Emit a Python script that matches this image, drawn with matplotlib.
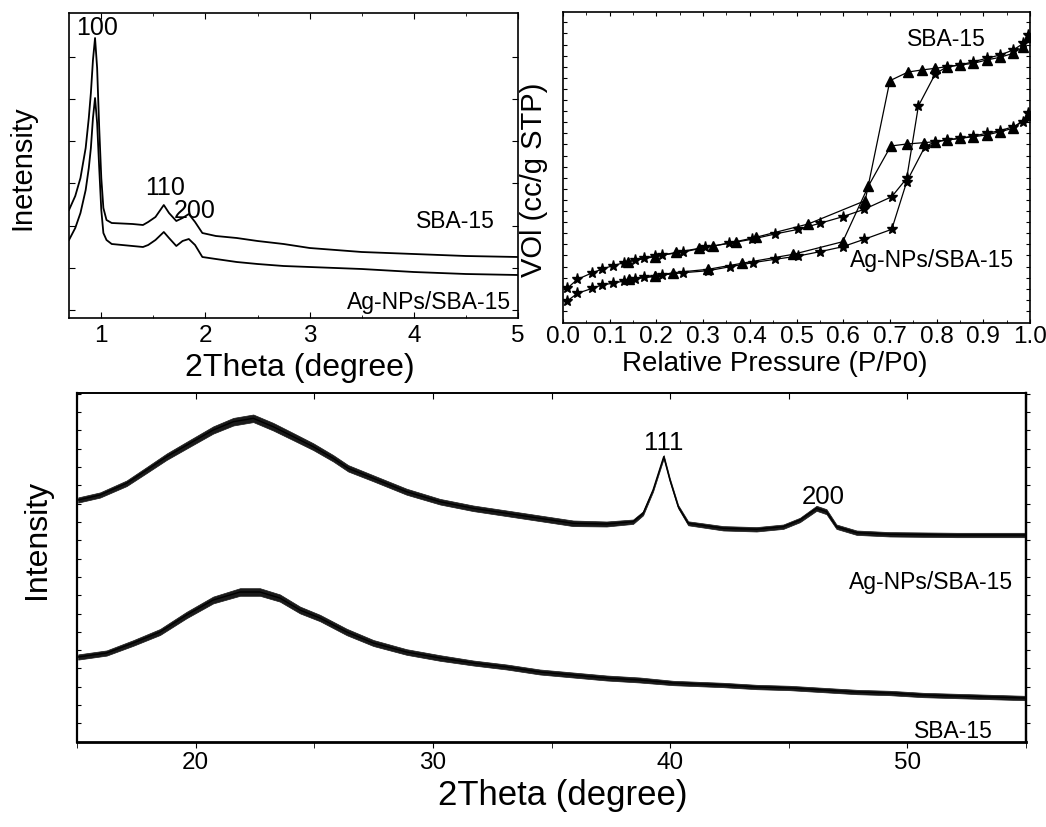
import numpy as np
import matplotlib
matplotlib.use("Agg")
import matplotlib.pyplot as plt
from matplotlib.ticker import FixedLocator, MultipleLocator, NullFormatter

plt.rcParams['font.family'] = ['Liberation Sans', 'DejaVu Sans']

W, H = 1046, 827

# --- small-angle XRD (top left), intensity in arbitrary units ---
sa_theta = [0.69, 0.75, 0.80, 0.85, 0.88, 0.90, 0.92, 0.94, 0.96, 0.98, 1.00, 1.02,
            1.05, 1.10, 1.30, 1.40, 1.45, 1.52, 1.60, 1.65, 1.72, 1.78, 1.84, 1.90,
            1.97, 2.10, 2.30, 2.50, 2.75, 3.00, 3.50, 4.00, 4.50, 5.00]
sa_sba = [108, 122, 140, 170, 200, 225, 258, 280, 250, 190, 140, 110,
          98, 95, 94, 93, 96, 101, 113, 105, 97, 100, 104, 96,
          85, 82, 80, 77, 74, 70, 66, 64, 62, 61]
sa_ag = [78, 90, 105, 128, 150, 170, 200, 220, 195, 150, 108, 85,
         78, 74, 72, 71, 73, 78, 86, 80, 72, 77, 79, 73,
         61, 59, 56, 54, 52, 51, 49, 46, 44, 43]

# --- N2 isotherms (top right), volume in arbitrary units ---
sba_ads_p = [0.009, 0.031, 0.063, 0.083, 0.106, 0.131, 0.154, 0.173, 0.196, 0.213, 0.258,
             0.305, 0.356, 0.404, 0.454, 0.504, 0.550, 0.599, 0.645, 0.704, 0.736, 0.761,
             0.797, 0.822, 0.850, 0.879, 0.907, 0.936, 0.964, 0.986, 0.996]
sba_ads_v = [34.7, 43.7, 50.3, 53.7, 57.3, 60.3, 63, 64.7, 67, 68, 71,
             75.7, 79.7, 83.7, 89, 93.7, 99.7, 106.3, 113.7, 126.3, 144.7, 217,
             249, 256.3, 258, 261.3, 264.7, 268, 273, 279.7, 288]
sba_des_p = [0.996, 0.986, 0.964, 0.936, 0.907, 0.879, 0.850, 0.822, 0.797, 0.768, 0.739,
             0.700, 0.647, 0.525, 0.413, 0.370, 0.322, 0.292, 0.243, 0.196, 0.140]
sba_des_v = [286.3, 276.3, 269.7, 265.7, 263, 259.7, 258, 256.3, 254.7, 253, 251,
             242.3, 122.3, 99, 85.7, 81.3, 77, 74.7, 70.7, 66.3, 61.3]

ag_ads_p = [0.009, 0.031, 0.063, 0.083, 0.106, 0.131, 0.154, 0.173, 0.196, 0.213, 0.258,
            0.311, 0.358, 0.406, 0.454, 0.504, 0.550, 0.599, 0.645, 0.704, 0.736, 0.775,
            0.797, 0.822, 0.850, 0.879, 0.907, 0.936, 0.964, 0.986, 0.996]
ag_ads_v = [22, 29.7, 34.7, 38, 39.7, 42, 43.7, 45.7, 46.3, 48, 50.3,
            52.3, 56.3, 60.3, 63.7, 67, 71.3, 76.3, 83.7, 93.7, 141.3, 176.3,
            181.3, 183, 184.7, 187, 189.7, 192.3, 196.3, 201.3, 209.7]
ag_des_p = [0.996, 0.964, 0.936, 0.907, 0.879, 0.850, 0.822, 0.797, 0.772, 0.736, 0.702,
            0.654, 0.599, 0.493, 0.383, 0.311, 0.236, 0.197, 0.142]
ag_des_v = [208, 194.7, 191.3, 188, 186.3, 184.7, 183, 181.3, 180.3, 179, 177,
            137, 81.3, 68.7, 59.7, 53.7, 50.3, 47, 43.7]

# --- wide-angle XRD (bottom): centre of the noisy trace and its half width ---
wa_ag_theta = [15.05, 15.97, 17.09, 17.94, 18.78, 19.76, 20.74, 21.59, 22.43, 23.27,
               24.12, 24.96, 25.8, 26.43, 27.49, 28.89, 30.3, 31.7, 33.11, 34.51,
               35.91, 37.32, 38.44, 38.86, 39.28, 39.73, 39.99, 40.34, 40.76, 42.24,
               43.64, 44.77, 45.47, 46.17, 46.59, 47.01, 47.86, 49.26, 52.07, 54.95]
wa_ag = [242, 247, 258.7, 272, 285.3, 298.7, 312, 320.3, 323.7, 315.3,
         305.3, 295.3, 283.7, 273.7, 263.7, 250.3, 240.3, 233.7, 228.7, 223.7,
         218.7, 218, 220.3, 228.7, 252, 285.3, 262, 235.3, 218.7, 213.7,
         212.7, 215.3, 222, 233.7, 230.3, 215.3, 209.3, 207.7, 207, 207]
wa_ag_noise = [2.6, 2.6, 2.8, 3, 3.2, 3.4, 3.6, 3.8, 3.8, 3.8,
               3.6, 3.4, 3.2, 3.2, 3, 3, 2.8, 2.8, 2.8, 2.8,
               2.8, 2.5, 2.2, 2, 1.6, 1.6, 1.6, 1.6, 2, 2.2,
               2.2, 2.2, 2.2, 2.5, 2.5, 2.2, 2.2, 2.2, 2.2, 2.2]
wa_sba_theta = [15.05, 16.25, 17.37, 18.5, 19.62, 20.74, 21.87, 22.71, 23.55, 24.4,
                25.24, 26.37, 27.49, 28.89, 30.3, 31.7, 33.11, 34.51, 35.91, 37.32,
                38.72, 40.13, 42.24, 43.64, 45.05, 46.45, 47.86, 49.26, 50.66, 52.07, 54.95]
wa_sba = [85, 89, 99, 110, 127, 142, 150, 150, 144, 132,
          124, 110, 99, 90, 84, 79, 75, 70, 67, 64,
          62, 59, 57, 55, 54, 52, 50, 49, 47, 46, 44]
wa_sba_noise = [2.6, 2.6, 2.8, 3, 3.2, 3.4, 3.8, 3.8, 3.6, 3.4,
                3.2, 3.2, 3, 2.8, 2.8, 2.5, 2.5, 2.5, 2.5, 2.5,
                2.5, 2.2, 2.2, 2.2, 2.2, 2.2, 2.2, 2.2, 2.2, 2.2, 2.2]

fig = plt.figure(figsize=(W / 100, H / 100), dpi=100)


def px_axes(l, t, r, b):
    return fig.add_axes([l / W, 1 - b / H, (r - l) / W, (b - t) / H])


def ftext(x, y, s, **kw):
    fig.text(x / W, 1 - y / H, s, ha='center', va='center', **kw)


# top left
ax1 = px_axes(69, 13, 518, 318)
ax1.plot(sa_theta, sa_sba, color='black', lw=1.3)
ax1.plot(sa_theta, sa_ag, color='black', lw=1.3)
ax1.set_xlim(0.69, 5)
ax1.set_ylim(0, 305)
ax1.xaxis.set_major_locator(FixedLocator([1, 2, 3, 4, 5]))
ax1.xaxis.set_minor_locator(MultipleLocator(0.5))
ax1.yaxis.set_major_locator(FixedLocator(np.arange(8, 300, 42.2)))
ax1.yaxis.set_major_formatter(NullFormatter())
ax1.tick_params(which='both', direction='in', top=True, right=True, labelsize=17.5, pad=5, length=4)
ax1.tick_params(which='minor', length=2.5)
ax1.text(0.958, 290, '100', fontsize=18, ha='center', va='center')
ax1.text(1.61, 130, '110', fontsize=18, ha='center', va='center')
ax1.text(1.90, 107, '200', fontsize=18, ha='center', va='center')
ax1.text(4.40, 96, 'SBA-15', fontsize=16.5, ha='center', va='center')
ax1.text(4.15, 15, 'Ag-NPs/SBA-15', fontsize=16.5, ha='center', va='center')
ftext(300, 368, '2Theta (degree)', fontsize=23)
ftext(22, 168, 'Inetensity', fontsize=21, rotation=90)

# top right
ax2 = px_axes(563, 12, 1030, 323)
kw = dict(color='black', lw=0.9)
ax2.plot(sba_ads_p, sba_ads_v, marker='*', markersize=8, **kw)
ax2.plot(sba_des_p, sba_des_v, marker='^', markersize=7, **kw)
ax2.plot(ag_ads_p, ag_ads_v, marker='*', markersize=8, **kw)
ax2.plot(ag_des_p, ag_des_v, marker='^', markersize=7, **kw)
ax2.set_xlim(0, 1.0)
ax2.set_ylim(0, 311)
ax2.xaxis.set_major_locator(MultipleLocator(0.1))
ax2.xaxis.set_minor_locator(MultipleLocator(0.05))
ax2.xaxis.set_major_formatter(plt.FuncFormatter(lambda v, p: f'{v:.1f}'))
ax2.yaxis.set_major_locator(FixedLocator(np.arange(12, 311, 11.1)))
ax2.yaxis.set_major_formatter(NullFormatter())
ax2.tick_params(which='both', direction='in', top=True, right=True, labelsize=17.5, pad=2, length=3)
ax2.tick_params(which='minor', length=2)
ax2.text(0.822, 283, 'SBA-15', fontsize=16.5, ha='center', va='center')
ax2.text(0.79, 63, 'Ag-NPs/SBA-15', fontsize=16.5, ha='center', va='center')
ftext(775, 364, 'Relative Pressure (P/P0)', fontsize=20)
ftext(534, 180, 'VOl (cc/g STP)', fontsize=21, rotation=90)

# bottom
ax3 = px_axes(77, 393, 1026, 742)
ag_c = np.array(wa_ag)
ag_n = np.array(wa_ag_noise)
sba_c = np.array(wa_sba)
sba_n = np.array(wa_sba_noise)
ax3.fill_between(wa_ag_theta, ag_c - ag_n, ag_c + ag_n, color='0.1', lw=0.5)
ax3.fill_between(wa_sba_theta, sba_c - sba_n, sba_c + sba_n, color='0.1', lw=0.5)
ax3.plot(wa_ag_theta, wa_ag, color='black', lw=1.0)
ax3.plot(wa_sba_theta, wa_sba, color='black', lw=1.0)
ax3.set_xlim(15, 55)
ax3.set_ylim(0, 349)
ax3.xaxis.set_major_locator(FixedLocator([20, 30, 40, 50]))
ax3.xaxis.set_minor_locator(MultipleLocator(5))
ax3.yaxis.set_major_locator(FixedLocator(np.arange(18.7, 349, 18.3)))
ax3.yaxis.set_major_formatter(NullFormatter())
ax3.tick_params(axis='x', which='both', direction='out', labelsize=17.5, pad=3, length=4)
ax3.tick_params(axis='y', which='both', direction='in', length=3)
top = ax3.secondary_xaxis('top')
top.xaxis.set_major_locator(MultipleLocator(5))
top.tick_params(direction='in', length=4, labeltop=False)
right = ax3.secondary_yaxis('right')
right.yaxis.set_major_locator(FixedLocator(np.arange(18.7, 349, 18.3)))
right.tick_params(direction='out', length=3, labelright=False)
for side, w in (('bottom', 2.0), ('left', 1.6), ('top', 1.2), ('right', 1.6)):
    ax3.spines[side].set_linewidth(w)
top.spines['top'].set_linewidth(1.2)
right.spines['right'].set_linewidth(1.6)
ax3.text(39.74, 299, '111', fontsize=18.5, ha='center', va='center')
ax3.text(46.44, 245, '200', fontsize=18.5, ha='center', va='center')
ax3.text(50.99, 160, 'Ag-NPs/SBA-15', fontsize=16.5, ha='center', va='center')
ax3.text(51.92, 10, 'SBA-15', fontsize=16.5, ha='center', va='center')
ftext(563, 795, '2Theta (degree)', fontsize=25)
ftext(37, 539, 'Intensity', fontsize=23, rotation=90)

for a in (ax1, ax2):
    for s in a.spines.values():
        s.set_linewidth(1.2)

fig.savefig('out.png', dpi=100)
